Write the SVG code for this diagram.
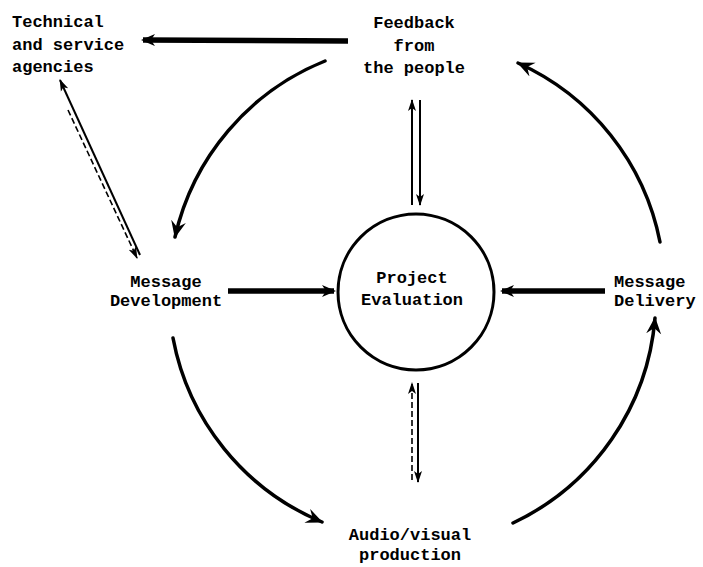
<svg xmlns="http://www.w3.org/2000/svg" width="703" height="567" viewBox="0 0 703 567">
<style>
text{font-family:"Liberation Mono","DejaVu Sans Mono",monospace;font-weight:bold;font-size:17px;fill:#000}
.c{text-anchor:middle}
.arc{fill:none;stroke:#000;stroke-width:3.5;stroke-linecap:round}
.thick{fill:none;stroke:#000;stroke-width:5.5}
.thin{fill:none;stroke:#000;stroke-width:2}
.dash{fill:none;stroke:#000;stroke-width:1.6;stroke-dasharray:6 3}
</style>
<defs>
<marker id="ah" markerUnits="userSpaceOnUse" markerWidth="18" markerHeight="16" viewBox="0 0 18 16" refX="16" refY="8" orient="auto">
<path d="M17,8 L0,0.5 L6,8 L0,15.5 Z" fill="#000"/>
</marker>
<marker id="at" markerUnits="userSpaceOnUse" markerWidth="14" markerHeight="12" viewBox="0 0 14 12" refX="12" refY="6" orient="auto">
<path d="M14,6 L0,0 L4,6 L0,12 Z" fill="#000"/>
</marker>
<marker id="as" markerUnits="userSpaceOnUse" markerWidth="12" markerHeight="10" viewBox="0 0 12 10" refX="11" refY="5" orient="auto">
<path d="M12,5 L0,1 L3,5 L0,9 Z" fill="#000"/>
</marker>
</defs>

<g id="technical-agencies">
<text x="12" y="27">Technical</text>
<text x="12" y="50">and service</text>
<text x="12" y="72">agencies</text>
</g>
<g id="feedback">
<text class="c" x="414" y="28">Feedback</text>
<text class="c" x="414" y="51">from</text>
<text class="c" x="414" y="73">the people</text>
</g>
<g id="message-development">
<text class="c" x="166" y="287">Message</text>
<text class="c" x="166" y="306">Development</text>
</g>
<g id="project-evaluation">
<circle cx="416" cy="292" r="78" fill="none" stroke="#000" stroke-width="3"/>
<text class="c" x="412" y="283">Project</text>
<text class="c" x="412" y="305">Evaluation</text>
</g>
<g id="message-delivery">
<text x="614" y="287">Message</text>
<text x="614" y="306">Delivery</text>
</g>
<g id="audio-visual">
<text class="c" x="410" y="540">Audio/visual</text>
<text class="c" x="410" y="560">production</text>
</g>

<g id="connectors">
<line class="thick" x1="348" y1="41" x2="143" y2="40" marker-end="url(#at)"/>
<path class="arc" d="M325,61 A249,249 0 0 0 175,237" marker-end="url(#ah)"/>
<path class="arc" d="M173,338 A249,249 0 0 0 322,522" marker-end="url(#ah)"/>
<path class="arc" d="M513,523 A249,249 0 0 0 655,318" marker-end="url(#ah)"/>
<path class="arc" d="M660,242 A249,249 0 0 0 518,63" marker-end="url(#ah)"/>
<line class="thin" x1="140" y1="255" x2="60" y2="80" marker-end="url(#as)"/>
<line class="dash" x1="68" y1="110" x2="137" y2="258" marker-end="url(#as)"/>
<line class="thick" x1="228" y1="291" x2="334" y2="291" marker-end="url(#at)"/>
<line class="thick" x1="605" y1="291" x2="502" y2="291" marker-end="url(#at)"/>
<line class="thin" x1="412" y1="205" x2="412" y2="100" marker-end="url(#as)"/>
<line class="thin" x1="420" y1="100" x2="420" y2="205" marker-end="url(#as)"/>
<line class="dash" x1="412" y1="480" x2="412" y2="383" marker-end="url(#as)"/>
<line class="thin" x1="418" y1="383" x2="418" y2="482" marker-end="url(#as)"/>
</g>
</svg>
